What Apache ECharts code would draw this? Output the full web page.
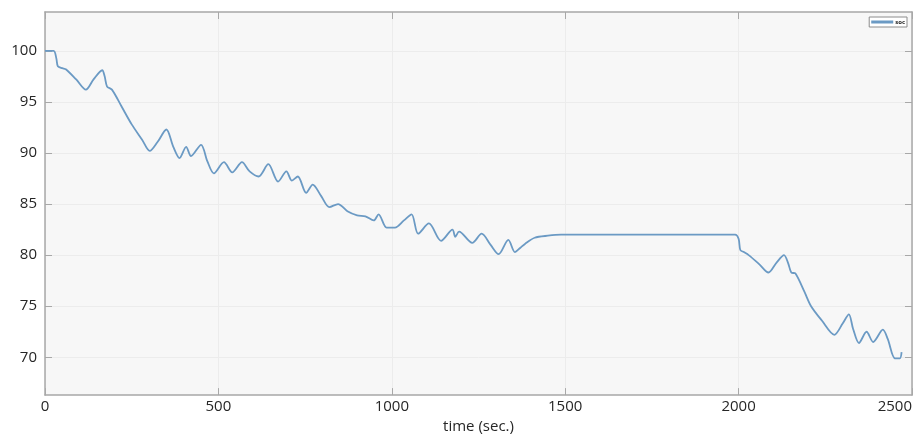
<!DOCTYPE html>
<html>
<head>
<meta charset="utf-8">
<script src="https://cdn.jsdelivr.net/npm/echarts@6/dist/echarts.min.js"></script>
<style>
html,body{margin:0;padding:0;background:#fff;}
#chart{width:920px;height:439px;}
</style>
</head>
<body>
<div id="chart"></div>
<script>
// time (sec.)
const timeSec = [0,25,33,37,50,60,90,118,140,165,172,179,193,220,250,280,302,325,350,370,388,407,421,450,468,487,516,540,568,590,616,644,672,696,712,729,753,772,796,820,845,872,900,924,948,962,985,1009,1035,1057,1076,1107,1142,1175,1183,1194,1232,1259,1285,1308,1336,1355,1370,1384,1412,1450,1488,1500,1990,2000,2005,2015,2029,2060,2086,2110,2131,2143,2152,2164,2190,2209,2240,2276,2300,2318,2330,2347,2369,2388,2416,2430,2451,2465,2470];
// series values
const socValues = [100,100,99.2,98.5,98.3,98.2,97.2,96.2,97.2,98.1,97.5,96.5,96.2,94.6,92.8,91.3,90.2,91.1,92.3,90.6,89.5,90.6,89.7,90.8,89.2,88.0,89.1,88.1,89.1,88.2,87.7,88.9,87.2,88.2,87.3,87.7,86.1,86.9,85.8,84.7,85.0,84.3,83.9,83.8,83.4,84.0,82.7,82.7,83.4,84.0,82.1,83.1,81.4,82.5,81.8,82.3,81.2,82.1,81.0,80.1,81.5,80.3,80.7,81.1,81.7,81.9,82.0,82.0,82.0,81.6,80.5,80.3,80.0,79.1,78.3,79.3,80.0,79.2,78.3,78.2,76.4,75.0,73.6,72.2,73.3,74.2,72.8,71.4,72.5,71.5,72.7,71.8,69.9,69.9,70.5];
const seriesName = 'soc';
// tick labels
const yTicks = [70,75,80,85,90,95,100];
const xTicks = [0,500,1000,1500,2000,2500];

const data = timeSec.map((t,i)=>[t, socValues[i]]);
const font = '"Open Sans", "DejaVu Sans", sans-serif';
const axisGray = '#a8a8a8';

const chart = echarts.init(document.getElementById('chart'));
chart.setOption({
  animation:false,
  backgroundColor:'#ffffff',
  textStyle:{fontFamily:font},
  grid:{left:45,right:8,top:12,bottom:37,show:true,backgroundColor:'#f7f7f7',borderWidth:0,containLabel:false},
  legend:{
    data:[seriesName], right:13, top:17, itemWidth:22, itemHeight:3, icon:'rect',
    borderColor:'#8c8c8c', borderWidth:1, padding:[2,2], itemGap:2, backgroundColor:'#ffffff',
    textStyle:{fontSize:6, color:'#222', fontWeight:'bold', padding:[0,0,0,-3]}
  },
  xAxis:[{
    type:'value', min:0, max:2500, position:'bottom',
    name:'time (sec.)', nameLocation:'middle', nameGap:17,
    nameTextStyle:{fontSize:15,color:'#262626',fontFamily:font},
    axisLine:{show:true,onZero:false,lineStyle:{color:axisGray,width:1.5}},
    axisTick:{show:true,inside:true,length:7,customValues:xTicks,lineStyle:{color:axisGray}},
    axisLabel:{fontSize:15,color:'#262626',margin:4,customValues:xTicks,alignMaxLabel:'right',fontFamily:font,formatter:v=>String(v)},
    splitLine:{show:true,lineStyle:{color:'#ececec',width:1}}
  },{
    type:'value', min:0, max:2500, position:'top',
    axisLine:{show:true,onZero:false,lineStyle:{color:axisGray,width:1.5}},
    axisTick:{show:true,inside:true,length:7,customValues:xTicks,lineStyle:{color:axisGray}},
    axisLabel:{show:false}, splitLine:{show:false}
  }],
  yAxis:[{
    type:'value', min:66.3, max:103.8, position:'left',
    axisLine:{show:true,onZero:false,lineStyle:{color:axisGray,width:1.5}},
    axisTick:{show:true,inside:true,length:7,customValues:yTicks,lineStyle:{color:axisGray}},
    axisLabel:{fontSize:15,color:'#262626',margin:8,customValues:yTicks,fontFamily:font,formatter:v=>String(v)},
    splitLine:{show:true,lineStyle:{color:'#ececec',width:1}}
  },{
    type:'value', min:66.3, max:103.8, position:'right',
    axisLine:{show:true,onZero:false,lineStyle:{color:axisGray,width:1.5}},
    axisTick:{show:true,inside:true,length:7,customValues:yTicks,lineStyle:{color:axisGray}},
    axisLabel:{show:false}, splitLine:{show:false}
  }],
  series:[{
    name:seriesName, type:'line', data:data, xAxisIndex:0, yAxisIndex:0,
    showSymbol:false, symbol:'none', smooth:0.3,
    lineStyle:{color:'#6b9ac4',width:1.8}, itemStyle:{color:'#6b9ac4'}
  }]
});
</script>
</body>
</html>
